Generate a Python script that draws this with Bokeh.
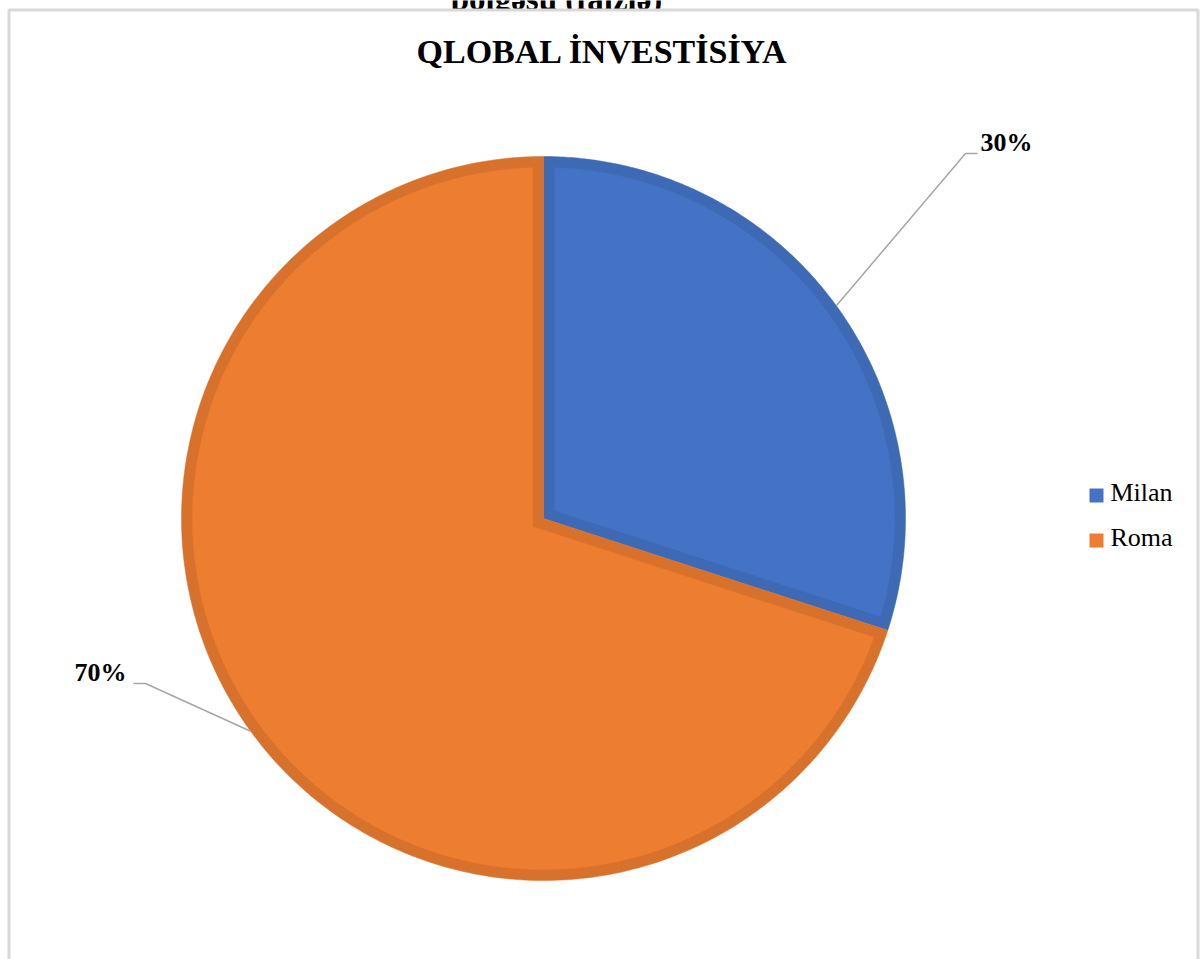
import math
from bokeh.plotting import figure
from bokeh.models import Range1d
from bokeh.core.properties import value
from bokeh.embed import file_html
from bokeh.resources import INLINE

# ---- data ----
categories = ["Milan", "Roma"]
values = [30, 70]
fill_colors = ["#4472C4", "#ED7D31"]
edge_colors = ["#3E69B5", "#D8712C"]
title_text = "QLOBAL İNVESTİSİYA"
top_text = "bölgəsü (faizlə)"

# ---- layout (pixels) ----
W, H = 1202, 959
cx, cy, R, band = 543, 518, 362, 11
FONT = value("Liberation Serif")
DY = -11  # baseline correction for rendered text

p = figure(width=W, height=H, x_range=Range1d(0, W), y_range=Range1d(H, 0),
           output_backend="svg", toolbar_location=None, min_border=0,
           x_axis_location=None, y_axis_location=None)
p.grid.visible = False
p.outline_line_color = None
p.background_fill_color = "white"
p.border_fill_color = "white"

# clipped caption above chart area
p.text(x=[556], y=[9 + DY], text=[top_text], text_font=FONT, text_font_size="33px",
       text_font_style="bold", text_align="center", text_baseline="alphabetic",
       text_color="black")

# chart area frame
p.quad(left=[8.5], right=[1197.5], top=[9.5], bottom=[990], fill_color="white",
       line_color="#D9D9D9", line_width=3)

# title
p.text(x=[602], y=[62 + DY], text=[title_text], text_font=FONT, text_font_size="34px",
       text_font_style="bold", text_align="center", text_baseline="alphabetic",
       text_color="black")


def pt(phi, r, ox=cx, oy=cy):
    return ox + r * math.sin(phi), oy - r * math.cos(phi)


total = float(sum(values))
start = 0.0
outer_xs, outer_ys, inner_xs, inner_ys, mids = [], [], [], [], []
for v in values:
    theta = 2 * math.pi * v / total
    a0, a1 = start, start + theta
    n = 240
    xs, ys = [cx], [cy]
    for i in range(n + 1):
        x, y = pt(a0 + theta * i / n, R)
        xs.append(x); ys.append(y)
    outer_xs.append(xs); outer_ys.append(ys)
    mid = (a0 + a1) / 2
    mids.append(mid)
    ax, ay = pt(mid, band / math.sin(theta / 2))
    r2 = R - band
    dl = math.asin(band / r2)
    xs, ys = [ax], [ay]
    for i in range(n + 1):
        x, y = pt(a0 + dl + (theta - 2 * dl) * i / n, r2)
        xs.append(x); ys.append(y)
    inner_xs.append(xs); inner_ys.append(ys)
    start = a1

p.patches(xs=outer_xs, ys=outer_ys, fill_color=edge_colors, line_color=edge_colors, line_width=0.5)
p.patches(xs=inner_xs, ys=inner_ys, fill_color=fill_colors, line_color=fill_colors, line_width=0.5)

# leader lines and data labels
elbows = [(965, 153), (145, 683)]
ends = [(977, 153), (133, 683)]
label_pos = [(980, 153, "left"), (126, 683, "right")]
lx, ly = [], []
for mid, (ex, ey), (tx, ty) in zip(mids, elbows, ends):
    sx, sy = pt(mid, R)
    lx.append([sx, ex, tx]); ly.append([sy, ey, ty])
p.multi_line(xs=lx, ys=ly, line_color="#A6A6A6", line_width=1.5)

for v, (x, y, al) in zip(values, label_pos):
    p.text(x=[x], y=[y + DY], text=[f"{round(100 * v / total)}%"], text_font=FONT,
           text_font_size="26px", text_font_style="bold", text_align=al,
           text_baseline="alphabetic", text_color="black")

# legend
leg_y = [495, 540]
p.rect(x=[1096] * len(categories), y=leg_y, width=14, height=14,
       fill_color=fill_colors, line_color=None)
p.text(x=[1110] * len(categories), y=[y + 8 + DY for y in leg_y], text=categories,
       text_font=FONT, text_font_size="26px", text_align="left",
       text_baseline="alphabetic", text_color="black")

open("out.html", "w").write(file_html(p, INLINE))
